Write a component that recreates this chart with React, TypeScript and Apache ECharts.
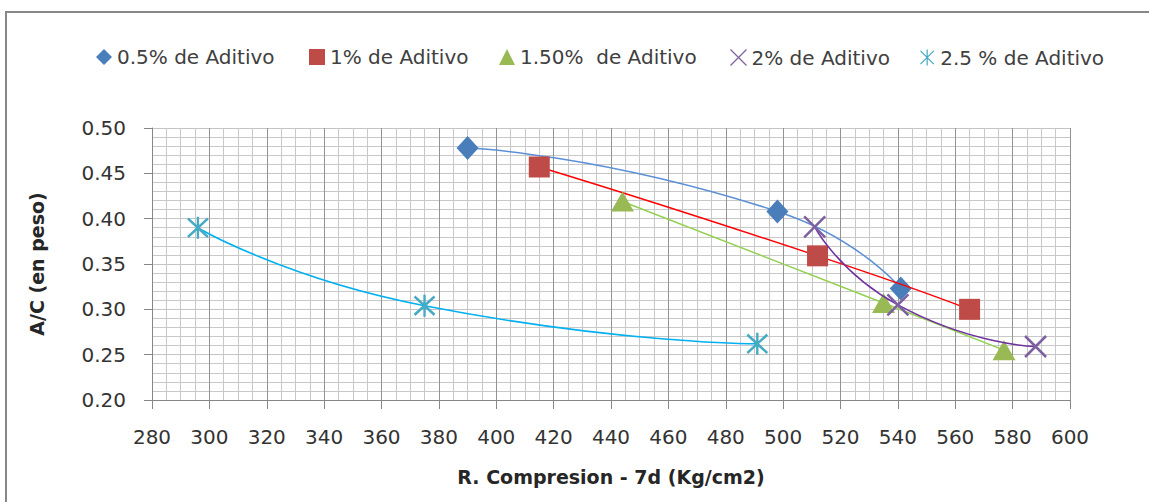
import React, { useEffect, useRef } from "react";
import * as echarts from "echarts";

const seriesNames = [
  "0.5% de Aditivo",
  "1% de Aditivo",
  "1.50%  de Aditivo",
  "2% de Aditivo",
  "2.5 % de Aditivo",
];

const s05: [number, number][] = [
  [390, 0.478],
  [498, 0.408],
  [541, 0.323],
];
const s10: [number, number][] = [
  [415, 0.457],
  [512, 0.359],
  [565, 0.3],
];
const s15: [number, number][] = [
  [444, 0.419],
  [535, 0.307],
  [577, 0.255],
];
const s20: [number, number][] = [
  [511, 0.391],
  [540, 0.305],
  [588, 0.259],
];
const s25: [number, number][] = [
  [296, 0.39],
  [375, 0.304],
  [491, 0.262],
];

const xMin = 280;
const xMax = 600;
const xStep = 20;
const yMin = 0.2;
const yMax = 0.5;
const yStep = 0.05;

const FONT = "DejaVu Sans";

const X_PATH = "path://M0,0L10,10M10,0L0,10";
const STAR_PATH = "path://M0,1L10,11M10,1L0,11M5,0L5,12";

const markerColors = ["#4A7EBB", "#BE4B48", "#98B954", "#7D60A0", "#46AAC5"];
const lineColors = ["#5B8FD6", "#FF0000", "#92D050", "#7030A0", "#00B0F0"];
const symbols = ["diamond", "rect", "triangle", X_PATH, STAR_PATH];
const symbolSizes: any[] = [[22, 24], 21, [23, 20], 21, [20, 22]];
const allData = [s05, s10, s15, s20, s25];
const legendLefts = [91, 304, 494, 723, 913];

export default function App() {
  const ref = useRef<HTMLDivElement>(null);

  useEffect(() => {
    if (!ref.current) return;
    const chart = echarts.init(ref.current, null, { renderer: "svg" });

    const series: any[] = allData.map((d, i) => {
      const stroke = i >= 3;
      return {
        name: seriesNames[i],
        type: "line",
        data: d,
        smooth: 0.6,
        symbol: symbols[i],
        symbolSize: symbolSizes[i],
        showSymbol: true,
        z: 3 + i,
        lineStyle: { color: lineColors[i], width: 1.5 },
        itemStyle: stroke
          ? { color: "none", borderColor: markerColors[i], borderWidth: 2.5 }
          : { color: markerColors[i], borderWidth: 0 },
      };
    });

    const legends = seriesNames.map((n, i) => ({
      data: [
        {
          name: n,
          icon: symbols[i],
          itemStyle:
            i >= 3
              ? { color: "none", borderColor: markerColors[i], borderWidth: 1.2 }
              : { color: markerColors[i], borderWidth: 0 },
        },
      ],
      left: legendLefts[i],
      top: 42,
      itemWidth: 16,
      itemHeight: 16,
      itemGap: 5,
      selectedMode: false,
      textStyle: { fontFamily: FONT, fontSize: 20, color: "#404040" },
    }));

    chart.setOption({
      animation: false,
      backgroundColor: "#ffffff",
      legend: legends,
      graphic: [
        {
          type: "rect",
          silent: true,
          z: -10,
          shape: { x: 6, y: 12, width: 1200, height: 600 },
          style: { fill: "none", stroke: "#878787", lineWidth: 2 },
        },
      ],
      grid: { left: 152, right: 79, top: 128, bottom: 102 },
      xAxis: {
        type: "value",
        min: xMin,
        max: xMax,
        interval: xStep,
        name: "R. Compresion - 7d (Kg/cm2)",
        nameLocation: "middle",
        nameGap: 67,
        nameTextStyle: {
          fontFamily: FONT,
          fontSize: 19,
          fontWeight: "bold",
          color: "#262626",
        },
        axisLine: { show: true, onZero: false, lineStyle: { color: "#868686", width: 1 } },
        axisTick: { show: true, length: 9, lineStyle: { color: "#868686" } },
        axisLabel: { margin: 27, fontFamily: FONT, fontSize: 20, color: "#333333" },
        splitLine: { show: true, lineStyle: { color: "#939393", width: 1 } },
        minorTick: { show: false, splitNumber: 4 },
        minorSplitLine: { show: true, lineStyle: { color: "#c8c8c8", width: 1 } },
      },
      yAxis: {
        type: "value",
        min: yMin,
        max: yMax,
        interval: yStep,
        name: "A/C (en peso)",
        nameLocation: "middle",
        nameGap: 106,
        nameTextStyle: {
          fontFamily: FONT,
          fontSize: 19,
          fontWeight: "bold",
          color: "#262626",
        },
        axisLine: { show: true, lineStyle: { color: "#868686", width: 1 } },
        axisTick: { show: true, length: 8, lineStyle: { color: "#868686" } },
        axisLabel: {
          margin: 26,
          fontFamily: FONT,
          fontSize: 20,
          color: "#333333",
          formatter: (v: number) => v.toFixed(2),
        },
        splitLine: { show: true, lineStyle: { color: "#c4c4c4", width: 1 } },
        minorTick: { show: false, splitNumber: 5 },
        minorSplitLine: { show: true, lineStyle: { color: "#c8c8c8", width: 1 } },
      },
      series,
    });

    return () => chart.dispose();
  }, []);

  return (
    <div
      ref={ref}
      style={{ position: "absolute", left: 0, top: 0, width: 1149, height: 502 }}
    />
  );
}
